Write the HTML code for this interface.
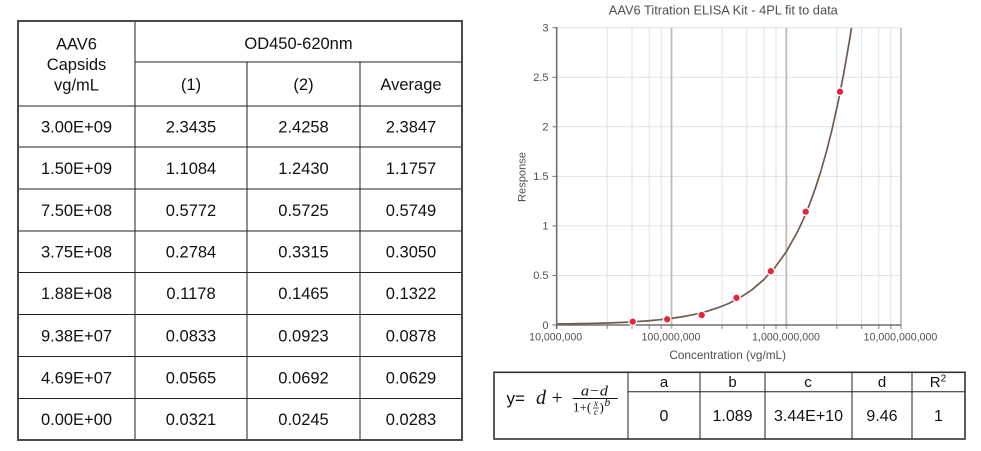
<!DOCTYPE html>
<html>
<head>
<meta charset="utf-8">
<style>
html,body{margin:0;padding:0;background:#fff;}
svg{display:block;}
text{font-family:"Liberation Sans",Arial,sans-serif;}
.t{font-size:16.5px;fill:#111;text-anchor:middle;}
.tk{font-size:11px;fill:#505050;}
.xt{font-size:10.6px;fill:#505050;text-anchor:middle;}
.ser{font-family:"Liberation Serif","DejaVu Serif",serif;}
</style>
</head>
<body>
<svg width="981" height="451" viewBox="0 0 981 451" xmlns="http://www.w3.org/2000/svg">
<rect x="0" y="0" width="981" height="451" fill="#fff"/>

<!-- ===== Left data table ===== -->
<g stroke="#222" stroke-width="1" fill="none">
  <line x1="135" y1="62" x2="462" y2="62"/>
  <line x1="18" y1="106" x2="462" y2="106"/>
  <line x1="18" y1="147" x2="462" y2="147"/>
  <line x1="18" y1="189" x2="462" y2="189"/>
  <line x1="18" y1="231" x2="462" y2="231"/>
  <line x1="18" y1="272.5" x2="462" y2="272.5"/>
  <line x1="18" y1="314.5" x2="462" y2="314.5"/>
  <line x1="18" y1="356.5" x2="462" y2="356.5"/>
  <line x1="18" y1="398.5" x2="462" y2="398.5"/>
  <line x1="135" y1="21" x2="135" y2="440"/>
  <line x1="247" y1="62" x2="247" y2="440"/>
  <line x1="360" y1="62" x2="360" y2="440"/>
</g>
<rect x="18" y="21" width="444" height="419" fill="none" stroke="#4a4a4a" stroke-width="2"/>

<text class="t" x="76.5" y="49.5">AAV6</text>
<text class="t" x="76.5" y="70">Capsids</text>
<text class="t" x="76.5" y="90.5">vg/mL</text>
<text class="t" x="298.5" y="49">OD450-620nm</text>
<text class="t" x="191" y="90">(1)</text>
<text class="t" x="303.5" y="90">(2)</text>
<text class="t" x="411" y="90">Average</text>

<g class="t">
<text class="t" x="76.5" y="132.5">3.00E+09</text><text class="t" x="191" y="132.5">2.3435</text><text class="t" x="303.5" y="132.5">2.4258</text><text class="t" x="411" y="132.5">2.3847</text>
<text class="t" x="76.5" y="174">1.50E+09</text><text class="t" x="191" y="174">1.1084</text><text class="t" x="303.5" y="174">1.2430</text><text class="t" x="411" y="174">1.1757</text>
<text class="t" x="76.5" y="216">7.50E+08</text><text class="t" x="191" y="216">0.5772</text><text class="t" x="303.5" y="216">0.5725</text><text class="t" x="411" y="216">0.5749</text>
<text class="t" x="76.5" y="257.5">3.75E+08</text><text class="t" x="191" y="257.5">0.2784</text><text class="t" x="303.5" y="257.5">0.3315</text><text class="t" x="411" y="257.5">0.3050</text>
<text class="t" x="76.5" y="299">1.88E+08</text><text class="t" x="191" y="299">0.1178</text><text class="t" x="303.5" y="299">0.1465</text><text class="t" x="411" y="299">0.1322</text>
<text class="t" x="76.5" y="341.5">9.38E+07</text><text class="t" x="191" y="341.5">0.0833</text><text class="t" x="303.5" y="341.5">0.0923</text><text class="t" x="411" y="341.5">0.0878</text>
<text class="t" x="76.5" y="383.5">4.69E+07</text><text class="t" x="191" y="383.5">0.0565</text><text class="t" x="303.5" y="383.5">0.0692</text><text class="t" x="411" y="383.5">0.0629</text>
<text class="t" x="76.5" y="425">0.00E+00</text><text class="t" x="191" y="425">0.0321</text><text class="t" x="303.5" y="425">0.0245</text><text class="t" x="411" y="425">0.0283</text>
</g>

<!-- ===== Chart ===== -->
<text x="723.3" y="14.5" font-size="12.7" fill="#505050" text-anchor="middle" textLength="229" lengthAdjust="spacingAndGlyphs">AAV6 Titration ELISA Kit - 4PL fit to data</text>

<!-- horizontal gridlines -->
<g stroke="#e2e2e2" stroke-width="1">
  <line x1="556.7" y1="27.7" x2="901" y2="27.7"/>
  <line x1="556.7" y1="77.25" x2="901" y2="77.25"/>
  <line x1="556.7" y1="126.8" x2="901" y2="126.8"/>
  <line x1="556.7" y1="176.35" x2="901" y2="176.35"/>
  <line x1="556.7" y1="225.9" x2="901" y2="225.9"/>
  <line x1="556.7" y1="275.45" x2="901" y2="275.45"/>
</g>
<!-- minor vertical gridlines -->
<g stroke="#e0e0e0" stroke-width="1">
  <line x1="607.2" y1="27.7" x2="607.2" y2="329"/>
  <line x1="632" y1="27.7" x2="632" y2="329"/>
  <line x1="649.2" y1="27.7" x2="649.2" y2="329"/>
  <line x1="661.2" y1="27.7" x2="661.2" y2="329"/>
  <line x1="722" y1="27.7" x2="722" y2="329"/>
  <line x1="746.8" y1="27.7" x2="746.8" y2="329"/>
  <line x1="764" y1="27.7" x2="764" y2="329"/>
  <line x1="776" y1="27.7" x2="776" y2="329"/>
  <line x1="836.8" y1="27.7" x2="836.8" y2="329"/>
  <line x1="861.6" y1="27.7" x2="861.6" y2="329"/>
  <line x1="878.8" y1="27.7" x2="878.8" y2="329"/>
  <line x1="890.8" y1="27.7" x2="890.8" y2="329"/>
</g>
<g stroke="#888" stroke-width="1">
  <line x1="607.2" y1="325" x2="607.2" y2="329"/>
  <line x1="632" y1="325" x2="632" y2="329"/>
  <line x1="649.2" y1="325" x2="649.2" y2="329"/>
  <line x1="661.2" y1="325" x2="661.2" y2="329"/>
  <line x1="722" y1="325" x2="722" y2="329"/>
  <line x1="746.8" y1="325" x2="746.8" y2="329"/>
  <line x1="764" y1="325" x2="764" y2="329"/>
  <line x1="776" y1="325" x2="776" y2="329"/>
  <line x1="836.8" y1="325" x2="836.8" y2="329"/>
  <line x1="861.6" y1="325" x2="861.6" y2="329"/>
  <line x1="878.8" y1="325" x2="878.8" y2="329"/>
  <line x1="890.8" y1="325" x2="890.8" y2="329"/>
</g>
<!-- major vertical gridlines -->
<g stroke="#bdbdbd" stroke-width="1.8">
  <line x1="671.5" y1="27.7" x2="671.5" y2="329"/>
  <line x1="786.3" y1="27.7" x2="786.3" y2="329"/>
  <line x1="901" y1="27.7" x2="901" y2="329"/>
</g>
<!-- axes -->
<g stroke="#707070" stroke-width="1.6">
  <line x1="556.7" y1="27" x2="556.7" y2="329"/>
  <line x1="556" y1="325" x2="901" y2="325"/>
</g>
<g stroke="#707070" stroke-width="1">
  <line x1="552.5" y1="27.7" x2="556.7" y2="27.7"/>
  <line x1="552.5" y1="77.25" x2="556.7" y2="77.25"/>
  <line x1="552.5" y1="126.8" x2="556.7" y2="126.8"/>
  <line x1="552.5" y1="176.35" x2="556.7" y2="176.35"/>
  <line x1="552.5" y1="225.9" x2="556.7" y2="225.9"/>
  <line x1="552.5" y1="275.45" x2="556.7" y2="275.45"/>
  <line x1="552.5" y1="325" x2="556.7" y2="325"/>
</g>

<!-- y tick labels -->
<g class="tk" text-anchor="end">
  <text x="548.5" y="31.5">3</text>
  <text x="548.5" y="81">2.5</text>
  <text x="548.5" y="130.6">2</text>
  <text x="548.5" y="180.1">1.5</text>
  <text x="548.5" y="229.7">1</text>
  <text x="548.5" y="279.2">0.5</text>
  <text x="548.5" y="328.8">0</text>
</g>
<text x="525.5" y="177" font-size="11.1" fill="#505050" text-anchor="middle" transform="rotate(-90 525.5 177)">Response</text>

<defs>
  <clipPath id="xclip"><rect x="480" y="320" width="457" height="40"/></clipPath>
  <clipPath id="plotclip"><rect x="556" y="27.7" width="346" height="300"/></clipPath>
</defs>
<g clip-path="url(#xclip)">
  <text class="xt" x="555.7" y="340.5">10,000,000</text>
  <text class="xt" x="671" y="340.5">100,000,000</text>
  <text class="xt" x="786" y="340.5">1,000,000,000</text>
  <text class="xt" x="900.5" y="340.5">10,000,000,000</text>
</g>
<text x="727.7" y="359" font-size="11.8" fill="#505050" text-anchor="middle">Concentration (vg/mL)</text>

<!-- fitted curve -->
<polyline clip-path="url(#plotclip)" fill="none" stroke="#6e5c50" stroke-width="1.7" stroke-linejoin="round"
points="556.7,323.99 568.18,323.84 579.66,323.66 591.14,323.42 602.62,323.11 614.1,322.72 625.58,322.22 637.06,321.58 648.54,320.76 660.02,319.71 671.5,318.36 682.98,316.64 694.46,314.43 705.94,311.6 717.42,307.98 728.9,303.36 740.38,297.41 751.86,289.81 763.34,280.08 774.82,267.62 786.3,251.67 797.78,231.23 803.52,218.94 809.26,205.07 815.0,189.35 820.74,171.57 826.48,151.42 832.22,128.65 837.96,102.87 843.7,73.68 849.44,40.67 851.74,26.24 853,18"/>

<!-- data points -->
<g fill="#e8243c" stroke="#fff" stroke-width="1.3">
  <circle cx="632.7" cy="321.7" r="3.8"/>
  <circle cx="667.2" cy="319.3" r="3.8"/>
  <circle cx="701.7" cy="315" r="3.8"/>
  <circle cx="736.5" cy="297.8" r="3.8"/>
  <circle cx="770.8" cy="271.2" r="3.8"/>
  <circle cx="805.7" cy="211.7" r="3.8"/>
  <circle cx="840" cy="91.7" r="3.8"/>
</g>

<!-- ===== Formula / parameter table ===== -->
<g stroke="#222" stroke-width="1" fill="none">
  <line x1="628" y1="391.7" x2="965" y2="391.7"/>
  <line x1="628" y1="372.3" x2="628" y2="439"/>
  <line x1="700" y1="372.3" x2="700" y2="439"/>
  <line x1="765" y1="372.3" x2="765" y2="439"/>
  <line x1="852" y1="372.3" x2="852" y2="439"/>
  <line x1="912" y1="372.3" x2="912" y2="439"/>
</g>
<rect x="494" y="372.3" width="471" height="66.7" fill="none" stroke="#333" stroke-width="1.6"/>

<g font-size="15" fill="#111" text-anchor="middle">
  <text x="664" y="387">a</text>
  <text x="732.5" y="387">b</text>
  <text x="808" y="387">c</text>
  <text x="882" y="387">d</text>
  <text x="938" y="387">R<tspan font-size="10" dy="-5.5">2</tspan></text>
</g>
<g font-size="16" fill="#111" text-anchor="middle">
  <text x="664" y="421">0</text>
  <text x="732.5" y="421">1.089</text>
  <text x="808.5" y="421">3.44E+10</text>
  <text x="882" y="421">9.46</text>
  <text x="938.5" y="421">1</text>
</g>

<!-- formula -->
<text x="506.5" y="404" font-size="17" fill="#111">y=</text>
<text class="ser" x="536" y="404" font-size="20" font-style="italic" fill="#111">d</text>
<text class="ser" x="551.5" y="404" font-size="20" fill="#111">+</text>
<line x1="572.7" y1="398.5" x2="617.7" y2="398.5" stroke="#111" stroke-width="1"/>
<text class="ser" x="594.5" y="395.5" font-size="15" font-style="italic" fill="#111" text-anchor="middle" textLength="27" lengthAdjust="spacingAndGlyphs">a−d</text>
<text class="ser" x="573" y="411.5" font-size="13" fill="#111">1+(</text>
<text class="ser" x="596" y="405.8" font-size="9" font-style="italic" fill="#111" text-anchor="middle">x</text>
<line x1="593" y1="408" x2="599" y2="408" stroke="#111" stroke-width="0.7"/>
<text class="ser" x="596" y="415" font-size="9" font-style="italic" fill="#111" text-anchor="middle">c</text>
<text class="ser" x="599.5" y="411.5" font-size="13" fill="#111">)</text>
<text class="ser" x="604.5" y="406" font-size="11.5" font-style="italic" fill="#111">b</text>
</svg>
</body>
</html>
